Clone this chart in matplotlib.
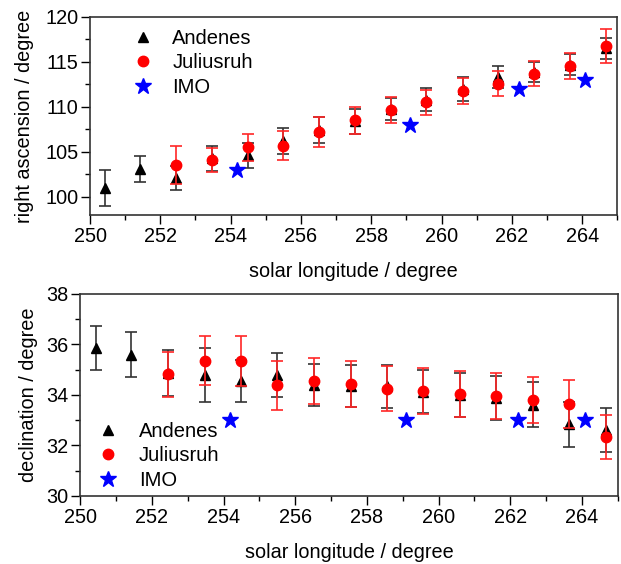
import matplotlib.pyplot as plt
from matplotlib.ticker import MultipleLocator
from matplotlib.lines import Line2D

plt.rcParams['font.family'] = ['Liberation Sans', 'DejaVu Sans']
plt.rcParams['font.size'] = 14.3

# Andenes (radar), right ascension
and_x = [250.43, 251.42, 252.45, 253.47, 254.49, 255.5, 256.52, 257.55,
         258.57, 259.57, 260.6, 261.6, 262.62, 263.65, 264.67]
and_ra = [101.0, 103.1, 102.1, 104.3, 104.6, 106.2, 107.4, 108.4,
          109.8, 110.8, 112.0, 113.3, 113.9, 114.7, 116.5]
and_ra_err = [2.0, 1.45, 1.3, 1.4, 1.4, 1.45, 1.45, 1.4,
              1.2, 1.3, 1.3, 1.2, 1.1, 1.2, 1.15]

# Juliusruh, right ascension
jul_x = [252.45, 253.47, 254.49, 255.5, 256.52, 257.55, 258.57, 259.57,
         260.6, 261.6, 262.62, 263.65, 264.67]
jul_ra = [103.5, 104.1, 105.5, 105.7, 107.2, 108.5, 109.7, 110.5,
          111.8, 112.6, 113.7, 114.5, 116.8]
jul_ra_err = [2.1, 1.3, 1.5, 1.6, 1.7, 1.5, 1.45, 1.4,
              1.45, 1.4, 1.4, 1.45, 1.9]

# IMO
imo_x = [254.17, 259.1, 262.2, 264.07]
imo_ra = [103.0, 108.0, 112.0, 113.0]
imo_dec = [33.0, 33.0, 33.0, 33.0]

# declination
and_dec = [35.85, 35.58, 34.87, 34.79, 34.53, 34.79, 34.4, 34.36,
           34.33, 34.12, 34.0, 33.87, 33.6, 32.84, 32.61]
and_dec_err = [0.88, 0.89, 0.92, 1.06, 0.83, 0.87, 0.83, 0.84,
               0.86, 0.86, 0.87, 0.87, 0.89, 0.89, 0.88]
jul_dec = [34.82, 35.35, 35.35, 34.37, 34.55, 34.42, 34.24, 34.16,
           34.04, 33.97, 33.8, 33.64, 32.33]
jul_dec_err = [0.89, 0.97, 0.99, 0.98, 0.9, 0.92, 0.89, 0.92,
               0.9, 0.91, 0.91, 0.95, 0.87]

handles = [
    Line2D([], [], marker='^', color='black', ls='none', ms=7),
    Line2D([], [], marker='o', color='red', ls='none', ms=7.5),
    Line2D([], [], marker='*', color='blue', ls='none', ms=12),
]
labels = ['Andenes', 'Juliusruh', 'IMO']


def draw(ax, ya, ea, yj, ej, yi):
    ax.errorbar(and_x, ya, yerr=ea, fmt='^', color='black', ms=7,
                ecolor=(0.2, 0.2, 0.2), elinewidth=1.2, capsize=4, capthick=1.2,
                zorder=3)
    ax.errorbar(jul_x, yj, yerr=ej, fmt='o', color='red', ms=7.5,
                ecolor=(1, 0.15, 0.15), elinewidth=1.2, capsize=4, capthick=1.2,
                zorder=4)
    ax.plot(imo_x, yi, '*', color='blue', ms=12, ls='none', zorder=5)
    ax.set_xlim(250, 265)
    ax.xaxis.set_major_locator(MultipleLocator(2))
    ax.xaxis.set_minor_locator(MultipleLocator(1))
    ax.tick_params(which='major', direction='out', length=6.5, width=1, pad=2)
    ax.tick_params(which='minor', direction='out', length=3.5, width=1)
    for s in ax.spines.values():
        s.set_linewidth(1.2)
        s.set_color((0.2, 0.2, 0.2))
    ax.set_xlabel('solar longitude / degree', labelpad=11.5)


fig = plt.figure(figsize=(6.21, 5.64), dpi=100)

ax1 = fig.add_axes([0.145, 0.619, 0.849, 0.351])
draw(ax1, and_ra, and_ra_err, jul_ra, jul_ra_err, imo_ra)
ax1.set_ylim(98, 120)
ax1.yaxis.set_major_locator(MultipleLocator(5))
ax1.yaxis.set_minor_locator(MultipleLocator(2.5))
ax1.set_ylabel('right ascension / degree', labelpad=8)
ax1.legend(handles, labels, loc='upper left', frameon=False, fontsize=14.5,
           bbox_to_anchor=(0.056, 0.98), borderaxespad=0,
           handletextpad=0.72, labelspacing=0.27, handlelength=1.5)

ax2 = fig.add_axes([0.129, 0.121, 0.866, 0.358])
draw(ax2, and_dec, and_dec_err, jul_dec, jul_dec_err, imo_dec)
ax2.set_ylim(30, 38)
ax2.yaxis.set_major_locator(MultipleLocator(2))
ax2.yaxis.set_minor_locator(MultipleLocator(1))
ax2.set_ylabel('declination / degree', labelpad=6)
ax2.legend(handles, labels, loc='upper left', frameon=False, fontsize=14.5,
           bbox_to_anchor=(0.008, 0.405), borderaxespad=0,
           handletextpad=0.8, labelspacing=0.27, handlelength=1.5)

fig.savefig('out.png', dpi=100)
